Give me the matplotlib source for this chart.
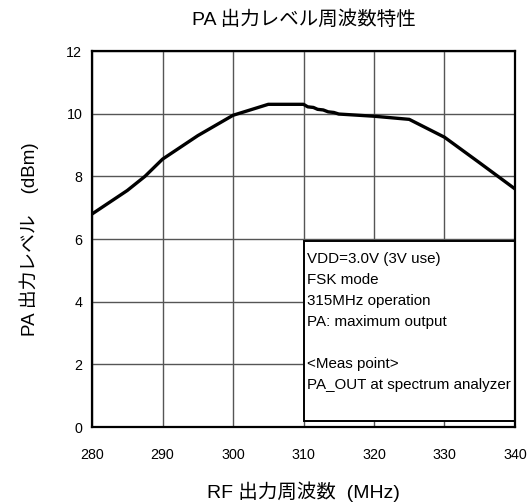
import matplotlib
matplotlib.use("Agg")
from matplotlib import pyplot as plt
from matplotlib.patches import Rectangle

plt.rcParams['font.family'] = ['Liberation Sans', 'Noto Sans CJK JP', 'DejaVu Sans']

# frequency (MHz) vs PA output level (dBm)
freq = [280, 285, 287.5, 290, 295, 300, 305, 310, 310.6, 311.4, 312.0, 312.8, 313.5, 314.3, 315, 320, 325, 330, 335, 340]
level = [6.8, 7.55, 8.0, 8.55, 9.3, 9.95, 10.3, 10.3, 10.22, 10.2, 10.14, 10.12, 10.06, 10.04, 9.99, 9.92, 9.82, 9.25, 8.43, 7.6]

x_ticks = [280, 290, 300, 310, 320, 330, 340]
y_ticks = [0, 2, 4, 6, 8, 10, 12]

title = "PA 出力レベル周波数特性"
x_label = "RF 出力周波数  (MHz)"
y_label = "PA 出力レベル    (dBm)"
note_lines = ["VDD=3.0V (3V use)", "FSK mode", "315MHz operation", "PA: maximum output",
              "", "<Meas point>", "PA_OUT at spectrum analyzer"]

fig = plt.figure(figsize=(5.29, 5.03), dpi=100)
ax = fig.add_axes([0.174, 0.151, 0.7995, 0.7475])

ax.set_xlim(280, 340)
ax.set_ylim(0, 12)
ax.set_xticks(x_ticks)
ax.set_yticks(y_ticks)
ax.tick_params(length=0, labelsize=10.3)
ax.tick_params(axis='x', pad=15)
ax.tick_params(axis='y', pad=7)
ax.grid(True, color='#555555', linewidth=1.0)
ax.set_axisbelow(True)
for s in ax.spines.values():
    s.set_linewidth(1.6)
    s.set_zorder(5)

ax.plot(freq, level, color='black', linewidth=2.4, zorder=3)

box = Rectangle((310, 0.2), 30, 5.75, facecolor='white', edgecolor='black', linewidth=1.4, zorder=4)
ax.add_patch(box)
y0 = 5.35
for i, line in enumerate(note_lines):
    ax.text(310.5, y0 - i * 0.67, line, fontsize=10.9, va='center', ha='left', zorder=6)

ax.set_title(title, fontsize=14, pad=19)
ax.set_xlabel(x_label, fontsize=14, labelpad=14)
ax.set_ylabel(y_label, fontsize=13.5, labelpad=20)

fig.savefig("out.png", dpi=100)
